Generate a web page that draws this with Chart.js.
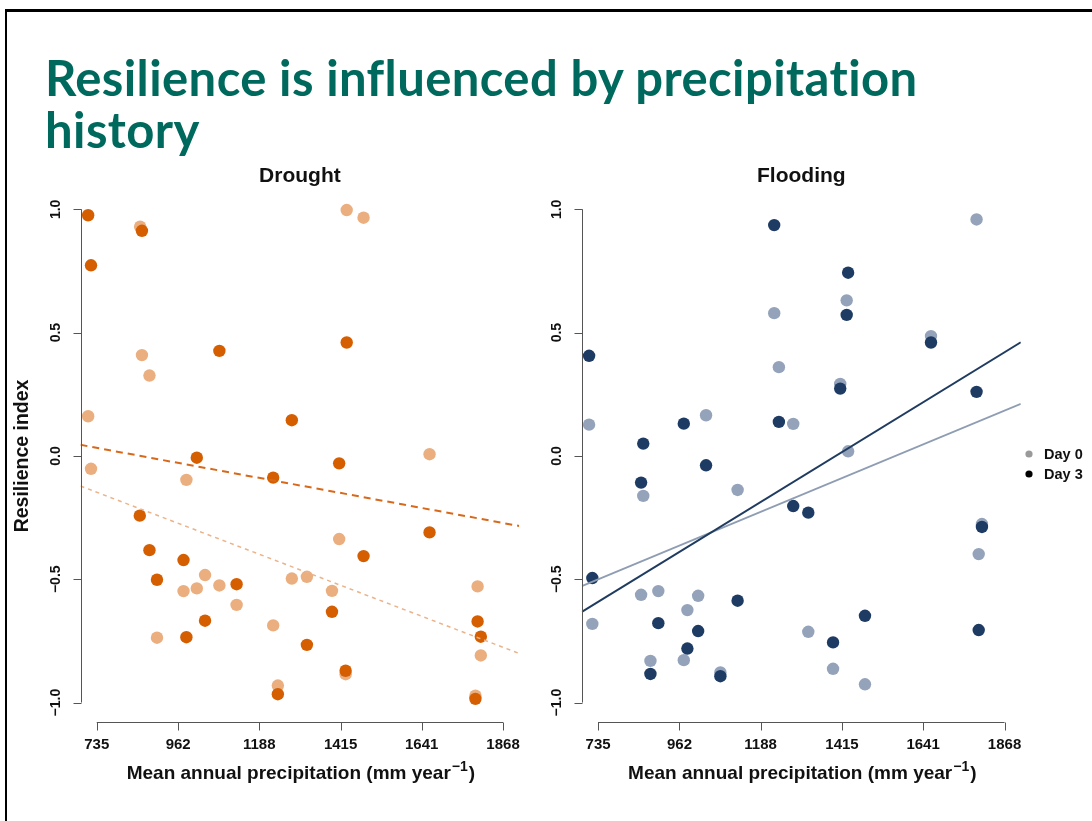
<!DOCTYPE html>
<html><head><meta charset="utf-8">
<script src="https://cdn.jsdelivr.net/npm/chart.js@4.4.1/dist/chart.umd.min.js"></script>
<style>
html,body{margin:0;padding:0;background:#fff;}
body{width:1092px;height:821px;overflow:hidden;position:relative;}
#frame{position:absolute;left:5px;top:9px;width:1200px;height:900px;border-top:3px solid #000;border-left:2px solid #000;box-sizing:border-box;}
h1{position:absolute;left:45px;top:51px;margin:0;font-family:Lato,"Open Sans",sans-serif;font-weight:700;font-size:49px;line-height:52px;color:#00695d;letter-spacing:0.4px;white-space:nowrap;}
canvas{position:absolute;top:160px;}
#c1{left:0;}
#c2{left:540px;}
</style></head>
<body>
<div id="frame"></div>
<h1>Resilience is influenced by precipitation<br>history</h1>
<canvas id="c1" width="540" height="640"></canvas>
<canvas id="c2" width="552" height="640"></canvas>
<script>
// ---- data ----
const xTicks = [735, 962, 1188, 1415, 1641, 1868];
const yTicks = [-1.0, -0.5, 0.0, 0.5, 1.0];
const yTickLabels = ['\u22121.0', '\u22120.5', '0.0', '0.5', '1.0'];
const xRange = [689.7, 1913.3];
const yRange = [-1.08, 1.08];
const panelTitles = ['Drought', 'Flooding'];
const legendLabels = ['Day 0', 'Day 3'];

const droughtDay0X = [856,1432,1479,861,882,711,719,985,1663,1411,1037,1279,1321,977,1014,1077,1391,1797,1125,1227,903,1806,1240,1429,1791];
const droughtDay0Y = [0.930,0.997,0.966,0.409,0.326,0.161,-0.052,-0.097,0.007,-0.337,-0.483,-0.497,-0.490,-0.548,-0.537,-0.525,-0.547,-0.529,-0.604,-0.687,-0.737,-0.809,-0.931,-0.885,-0.972];
const droughtDay3X = [711,719,861,1077,1432,1279,1014,1411,1227,855,882,977,903,1125,1479,1663,1391,1037,985,1321,1429,1240,1791,1797,1806];
const droughtDay3Y = [0.976,0.773,0.913,0.426,0.460,0.145,-0.007,-0.030,-0.088,-0.242,-0.382,-0.422,-0.502,-0.520,-0.406,-0.310,-0.632,-0.668,-0.735,-0.766,-0.871,-0.966,-0.985,-0.671,-0.733];

const floodDay0X = [1790,1428,1226,1239,1410,1663,1036,710,1279,1432,1124,861,1805,1796,855,903,1014,984,719,1321,881,974,1390,1076,1479];
const floodDay0Y = [0.959,0.631,0.579,0.360,0.292,0.486,0.165,0.127,0.130,0.019,-0.138,-0.162,-0.276,-0.398,-0.563,-0.548,-0.567,-0.625,-0.681,-0.713,-0.831,-0.828,-0.863,-0.878,-0.926];
const floodDay3X = [710,1226,1432,1428,1663,1410,1790,974,1239,861,1036,855,1279,1321,1805,719,1124,1479,903,1796,1014,1390,984,881,1076];
const floodDay3Y = [0.406,0.936,0.743,0.572,0.460,0.273,0.260,0.131,0.138,0.050,-0.038,-0.108,-0.203,-0.230,-0.288,-0.495,-0.587,-0.648,-0.678,-0.706,-0.710,-0.756,-0.781,-0.884,-0.893];

// fitted lines: values at the two ends of the x range
const fitX = [689.7, 1913.3];
const droughtFitDay0 = [-0.122, -0.801];
const droughtFitDay3 = [0.045, -0.284];
const floodFitDay0 = [-0.528, 0.211];
const floodFitDay3 = [-0.632, 0.461];

// ---- helpers ----
const pts = (xs, ys) => xs.map((x, i) => ({x: x, y: ys[i]}));
const FONT = '"Liberation Sans", Arial, sans-serif';

const decor = {
  id: 'decor',
  afterDraw(chart) {
    const o = chart.options.plugins.decor;
    const {ctx, chartArea: ca} = chart;
    const x = chart.scales.x, y = chart.scales.y;
    ctx.save();
    ctx.strokeStyle = '#555'; ctx.lineWidth = 1;
    ctx.beginPath();
    const yb = Math.round(ca.bottom) + 0.5;
    ctx.moveTo(x.getPixelForValue(xTicks[0]), yb);
    ctx.lineTo(x.getPixelForValue(xTicks[xTicks.length - 1]), yb);
    xTicks.forEach(v => { const p = Math.round(x.getPixelForValue(v)) + 0.5; ctx.moveTo(p, yb); ctx.lineTo(p, yb + 8); });
    const xl = Math.round(ca.left) + 0.5;
    ctx.moveTo(xl, y.getPixelForValue(yTicks[0]));
    ctx.lineTo(xl, y.getPixelForValue(yTicks[yTicks.length - 1]));
    yTicks.forEach(v => { const p = Math.round(y.getPixelForValue(v)) + 0.5; ctx.moveTo(xl, p); ctx.lineTo(xl - 8, p); });
    ctx.stroke();

    ctx.fillStyle = '#111';
    ctx.font = 'bold 14px ' + FONT;
    ctx.textAlign = 'center'; ctx.textBaseline = 'middle';
    yTicks.forEach((v, i) => {
      ctx.save();
      ctx.translate(ca.left - 24.5, y.getPixelForValue(v));
      ctx.rotate(-Math.PI / 2);
      ctx.fillText(yTickLabels[i], 0, 0);
      ctx.restore();
    });

    // panel title
    const cx = (ca.left + ca.right) / 2;
    ctx.font = 'bold 21px ' + FONT;
    ctx.textBaseline = 'alphabetic';
    ctx.fillText(o.title, cx, 21.5);

    // x axis title with superscript
    const main = 'Mean annual precipitation (mm year', sup = '\u22121', close = ')';
    ctx.font = 'bold 19px ' + FONT;
    const wm = ctx.measureText(main).width, wc = ctx.measureText(close).width;
    ctx.font = 'bold 14px ' + FONT;
    const ws = ctx.measureText(sup).width;
    let sx = cx - (wm + ws + wc) / 2;
    const by = 619;
    ctx.textAlign = 'left';
    ctx.font = 'bold 19px ' + FONT;
    ctx.fillText(main, sx, by);
    ctx.font = 'bold 14px ' + FONT;
    ctx.fillText(sup, sx + wm + 1, by - 8);
    ctx.font = 'bold 19px ' + FONT;
    ctx.fillText(close, sx + wm + ws + 2, by);

    if (o.yTitle) {
      ctx.save();
      ctx.translate(23, (ca.top + ca.bottom) / 2);
      ctx.rotate(-Math.PI / 2);
      ctx.textAlign = 'center'; ctx.textBaseline = 'middle';
      ctx.font = 'bold 19.5px ' + FONT;
      ctx.fillText(o.yTitle, 0, 0);
      ctx.restore();
    }
    if (o.legend) {
      ctx.textAlign = 'left'; ctx.textBaseline = 'middle';
      ctx.font = 'bold 14.5px ' + FONT;
      o.legend.colors.forEach((c, i) => {
        const ly = 294 + i * 20;
        ctx.fillStyle = c;
        ctx.beginPath(); ctx.arc(489, ly, 3.6, 0, Math.PI * 2); ctx.fill();
        ctx.fillStyle = '#111';
        ctx.fillText(legendLabels[i], 504, ly + 1);
      });
    }
    ctx.restore();
  }
};

function makeChart(id, cfg) {
  const ds = [
    {type: 'line', data: pts(fitX, cfg.fit3), borderColor: cfg.line3, borderWidth: cfg.lw3, borderDash: cfg.dash3, pointRadius: 0, fill: false, order: 1},
    {type: 'line', data: pts(fitX, cfg.fit0), borderColor: cfg.line0, borderWidth: cfg.lw0, borderDash: cfg.dash0, pointRadius: 0, fill: false, order: 2},
    {type: 'scatter', data: pts(cfg.x3, cfg.y3), backgroundColor: cfg.c3, borderWidth: 0, pointRadius: 6.2, order: 3},
    {type: 'scatter', data: pts(cfg.x0, cfg.y0), backgroundColor: cfg.c0, borderWidth: 0, pointRadius: 6.2, order: 4}
  ];
  return new Chart(document.getElementById(id), {
    type: 'scatter',
    data: {datasets: ds},
    options: {
      responsive: false, animation: false, events: [],
      layout: {padding: {left: 0, right: cfg.padRight, top: 29.6, bottom: 0}},
      plugins: {legend: {display: false}, tooltip: {enabled: false},
        decor: {title: cfg.title, yTitle: cfg.yTitle, legend: cfg.legend}},
      scales: {
        x: {type: 'linear', min: xRange[0], max: xRange[1],
          grid: {display: false, drawTicks: false}, border: {display: false},
          afterBuildTicks: s => { s.ticks = xTicks.map(v => ({value: v})); },
          afterFit: s => { s.height = 77.7; },
          ticks: {autoSkip: false, maxRotation: 0, minRotation: 0, padding: 14, color: '#111',
            font: {family: FONT, weight: 'bold', size: 15}, callback: v => String(v)}},
        y: {type: 'linear', min: yRange[0], max: yRange[1],
          grid: {display: false, drawTicks: false}, border: {display: false},
          afterBuildTicks: s => { s.ticks = yTicks.map(v => ({value: v})); },
          afterFit: s => { s.width = cfg.yWidth; },
          ticks: {display: false}}
      }
    },
    plugins: [decor]
  });
}

makeChart('c1', {
  title: panelTitles[0], yTitle: 'Resilience index', legend: null,
  padRight: 20.7, yWidth: 80.5,
  x0: droughtDay0X, y0: droughtDay0Y, x3: droughtDay3X, y3: droughtDay3Y,
  fit0: droughtFitDay0, fit3: droughtFitDay3,
  c0: '#eaae7f', c3: '#d55e00',
  line0: '#ebb38a', line3: '#d8691a', lw0: 1.5, lw3: 2, dash0: [4, 4], dash3: [7, 5]
});
makeChart('c2', {
  title: panelTitles[1], yTitle: null, legend: {colors: ['#9a9a9a', '#000000']},
  padRight: 71.2, yWidth: 41.8,
  x0: floodDay0X, y0: floodDay0Y, x3: floodDay3X, y3: floodDay3Y,
  fit0: floodFitDay0, fit3: floodFitDay3,
  c0: '#94a3ba', c3: '#1d3b63',
  line0: '#8e9db3', line3: '#1f3b60', lw0: 1.8, lw3: 2, dash0: [], dash3: []
});
</script>
</body></html>
